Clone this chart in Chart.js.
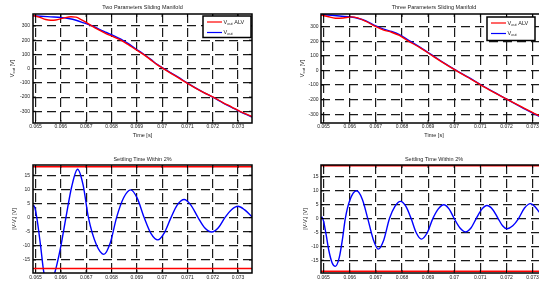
<!DOCTYPE html>
<html>
<head>
<meta charset="utf-8">
<script src="https://cdn.jsdelivr.net/npm/chart.js@4.4.0/dist/chart.umd.min.js"></script>
<style>
  html, body { margin: 0; padding: 0; background: #fff; overflow: hidden; width: 539px; height: 282px; }
  canvas { position: absolute; }
</style>
</head>
<body>
<canvas id="chartOne" width="270" height="141" style="left:0;top:0"></canvas>
<canvas id="chartTwo" width="290" height="141" style="left:270px;top:0"></canvas>
<canvas id="chartThree" width="270" height="150" style="left:0;top:141px"></canvas>
<canvas id="chartFour" width="290" height="150" style="left:270px;top:141px"></canvas>
<script>
"use strict";

let tSpan = [0.0649, 0.07355];
let xTickLabels = ["0.065", "0.066", "0.067", "0.068", "0.069", "0.07", "0.071", "0.072", "0.073"];
let vTickLabels = ["-300", "-200", "-100", "0", "100", "200", "300"];
let eTickLabels = ["-15", "-10", "-5", "0", "5", "10", "15"];

// Two Parameters Sliding Manifold
let tTwoAlv = [0.06490, 0.06500, 0.06520, 0.06540, 0.06560, 0.06580, 0.06610, 0.06640, 0.06660, 0.06680, 0.06700, 0.06722, 0.06750, 0.06780, 0.06810, 0.06837, 0.06865, 0.06895, 0.06926, 0.06955, 0.06980, 0.07005, 0.07035, 0.07065, 0.07097, 0.07130, 0.07165, 0.07202, 0.07240, 0.07275, 0.07307, 0.07330, 0.07355];
let vTwoAlv = [372, 370, 358, 345, 340, 342, 355, 365, 362, 345, 325, 300, 272, 245, 222, 200, 170, 135, 100, 62, 28, 0, -33, -65, -100, -135, -168, -200, -238, -270, -300, -318, -337];
let tTwoOut = [0.06490, 0.06520, 0.06560, 0.06600, 0.06630, 0.06660, 0.06690, 0.06722, 0.06750, 0.06780, 0.06810, 0.06837, 0.06865, 0.06895, 0.06926, 0.06955, 0.06980, 0.07005, 0.07035, 0.07065, 0.07097, 0.07130, 0.07165, 0.07202, 0.07240, 0.07275, 0.07307, 0.07330, 0.07355];
let vTwoOut = [372, 368, 364, 360, 352, 340, 322, 302, 278, 254, 230, 207, 177, 140, 103, 65, 30, 2, -30, -62, -98, -133, -168, -202, -240, -272, -302, -320, -340];

// Three Parameters Sliding Manifold
let tThreeAlv = [0.06490, 0.06515, 0.06545, 0.06575, 0.06605, 0.06630, 0.06660, 0.06700, 0.06730, 0.06760, 0.06790, 0.06821, 0.06870, 0.06917, 0.06960, 0.07006, 0.07055, 0.07102, 0.07150, 0.07204, 0.07260, 0.07312, 0.07355];
let vThreeAlv = [380, 370, 358, 360, 367, 360, 338, 300, 277, 262, 240, 205, 155, 100, 50, 0, -50, -100, -148, -200, -252, -300, -335];
let tThreeOut = [0.06490, 0.06530, 0.06570, 0.06605, 0.06630, 0.06660, 0.06700, 0.06730, 0.06760, 0.06790, 0.06821, 0.06870, 0.06917, 0.06960, 0.07006, 0.07055, 0.07102, 0.07150, 0.07204, 0.07260, 0.07312, 0.07355];
let vThreeOut = [383, 378, 372, 366, 358, 342, 305, 283, 267, 246, 212, 158, 103, 52, 2, -48, -98, -147, -200, -254, -303, -340];

// Settling time within 2%
let tErrTwo = [0.06490, 0.06495, 0.06505, 0.06520, 0.06533, 0.06555, 0.06576, 0.06598, 0.06620, 0.06643, 0.06666, 0.06688, 0.06709, 0.06740, 0.06770, 0.06795, 0.06820, 0.06848, 0.06876, 0.06902, 0.06929, 0.06955, 0.06983, 0.07008, 0.07035, 0.07060, 0.07087, 0.07113, 0.07142, 0.07168, 0.07196, 0.07222, 0.07248, 0.07274, 0.07300, 0.07325, 0.07355];
let eErrTwo = [4.2, 4.0, 0, -10, -19.5, -24, -19.5, -11, 0, 11, 17.1, 11.5, 0, -9.5, -13, -9, 0, 7, 9.8, 6.8, 0, -5.5, -7.9, -5.5, 0, 4.5, 6.4, 4.5, 0, -3.6, -5.1, -3.6, 0, 2.8, 4.0, 2.8, 0.3];
let bandTwo = [18, -18];

let tErrThree = [0.06490, 0.06494, 0.06500, 0.06510, 0.06520, 0.06532, 0.06545, 0.06560, 0.06572, 0.06583, 0.06600, 0.06626, 0.06648, 0.06669, 0.06690, 0.06709, 0.06730, 0.06752, 0.06773, 0.06794, 0.06815, 0.06835, 0.06855, 0.06874, 0.06896, 0.06918, 0.06939, 0.06960, 0.06980, 0.07000, 0.07022, 0.07043, 0.07064, 0.07084, 0.07105, 0.07125, 0.07147, 0.07168, 0.07185, 0.07201, 0.07224, 0.07246, 0.07269, 0.07292, 0.07310, 0.07324, 0.07340, 0.07355];
let eErrThree = [0.2, 0.5, -1, -6, -11.5, -15.8, -17.2, -14, -7.5, 0, 6.5, 10, 7, 0, -7.5, -11, -7.8, 0, 4.4, 6.2, 4.4, 0, -5.2, -7.4, -5.2, 0, 3.5, 5, 3.5, 0, -3.4, -4.8, -3.4, 0, 3.3, 4.7, 3.3, 0, -2.6, -3.7, -2.6, 0, 3.8, 5.4, 4.2, 2.5, 0.5, -1.5];
let bandThree = [19, -19];

let FONT = "'Liberation Sans', Arial, sans-serif";
let TEXT = "#222";

function pts(t, v) {
  return t.map((x, i) => ({ x: x, y: v[i] }));
}

function curve(t, v, color) {
  return {
    data: pts(t, v),
    borderColor: color,
    borderWidth: 1.4,
    pointRadius: 0,
    fill: false,
    cubicInterpolationMode: "monotone",
  };
}

function limit(level) {
  return {
    data: pts(tSpan, [level, level]),
    borderColor: "#ff0000",
    borderWidth: 1.5,
    pointRadius: 0,
    fill: false,
  };
}

// text pieces: [string, isSubscript]
function richText(ctx, parts, x, y) {
  let main = "5.5px " + FONT;
  let small = "4px " + FONT;
  let w = 0;
  parts.forEach((p) => {
    ctx.font = p[1] ? small : main;
    w += ctx.measureText(p[0]).width;
  });
  let cx = x - w / 2;
  ctx.textAlign = "left";
  ctx.textBaseline = "middle";
  parts.forEach((p) => {
    ctx.font = p[1] ? small : main;
    ctx.fillText(p[0], cx, p[1] ? y + 1.5 : y);
    cx += ctx.measureText(p[0]).width;
  });
}

function leftText(ctx, parts, x, y) {
  let main = "5.5px " + FONT;
  let small = "4px " + FONT;
  ctx.textAlign = "left";
  ctx.textBaseline = "middle";
  parts.forEach((p) => {
    ctx.font = p[1] ? small : main;
    ctx.fillText(p[0], x, p[1] ? y + 1.5 : y);
    x += ctx.measureText(p[0]).width;
  });
}

function matlabLook(cfg) {
  return {
    id: "matlabLook",
    afterDraw(chart) {
      let ctx = chart.ctx;
      let a = chart.chartArea;
      let xs = chart.scales.x;
      let ys = chart.scales.y;
      ctx.save();

      // inward tick marks on all four sides
      ctx.strokeStyle = "#000";
      ctx.lineWidth = 1;
      ctx.beginPath();
      xs.ticks.forEach((t) => {
        let p = xs.getPixelForValue(t.value);
        ctx.moveTo(p, a.top);
        ctx.lineTo(p, a.top + 3);
        ctx.moveTo(p, a.bottom);
        ctx.lineTo(p, a.bottom - 3);
      });
      ys.ticks.forEach((t) => {
        let p = ys.getPixelForValue(t.value);
        ctx.moveTo(a.left, p);
        ctx.lineTo(a.left + 3, p);
        ctx.moveTo(a.right, p);
        ctx.lineTo(a.right - 3, p);
      });
      ctx.stroke();

      // box
      ctx.lineWidth = 1.5;
      ctx.strokeRect(a.left, a.top, a.right - a.left, a.bottom - a.top);

      let mid = (a.left + a.right) / 2;
      ctx.fillStyle = TEXT;
      ctx.font = "5.5px " + FONT;
      ctx.textAlign = "center";
      ctx.textBaseline = "middle";
      ctx.fillText(cfg.title, mid, cfg.titleY);
      if (cfg.xLabelY) {
        ctx.fillText("Time [s]", mid, cfg.xLabelY);
      }

      ctx.save();
      ctx.translate(cfg.yLabelX, (a.top + a.bottom) / 2);
      ctx.rotate(-Math.PI / 2);
      richText(ctx, cfg.yLabel, 0, 0);
      ctx.restore();

      if (cfg.legend) {
        let L = cfg.legend;
        ctx.fillStyle = "#fff";
        ctx.fillRect(L.x, L.y, L.w, L.h);
        ctx.strokeStyle = "#000";
        ctx.lineWidth = 1.5;
        ctx.strokeRect(L.x, L.y, L.w, L.h);
        L.items.forEach((it, i) => {
          let y = L.y + 6 + i * 10.5;
          ctx.strokeStyle = it.color;
          ctx.lineWidth = 1.2;
          ctx.beginPath();
          ctx.moveTo(L.x + 4, y);
          ctx.lineTo(L.x + 19, y);
          ctx.stroke();
          ctx.fillStyle = TEXT;
          leftText(ctx, it.text, L.x + 20.5, y);
        });
      }
      ctx.restore();
    },
  };
}

function makeChart(id, cfg) {
  let ctx = document.getElementById(id).getContext("2d");
  let xTicks = xTickLabels.map(Number);
  let yTicks = cfg.yTickLabels.map(Number);
  return new Chart(ctx, {
    type: "line",
    data: { datasets: cfg.datasets },
    options: {
      responsive: false,
      animation: false,
      events: [],
      layout: { padding: { left: 0, right: cfg.padRight, top: cfg.padTop, bottom: 0 } },
      plugins: {
        legend: { display: false },
        tooltip: { enabled: false },
        title: { display: false },
      },
      scales: {
        x: {
          type: "linear",
          min: tSpan[0],
          max: tSpan[1],
          afterBuildTicks: (s) => { s.ticks = xTicks.map((v) => ({ value: v })); },
          afterFit: (s) => { s.height = cfg.xHeight; },
          ticks: {
            autoSkip: false,
            maxRotation: 0,
            padding: cfg.xTickPad,
            color: TEXT,
            font: { family: FONT, size: 5 },
            callback: (v) => xTickLabels[xTicks.indexOf(v)],
          },
          grid: { color: "#1a1a1a", lineWidth: 1.2, drawTicks: false },
          border: { display: false, dash: [9, 5] },
        },
        y: {
          min: cfg.yMin,
          max: cfg.yMax,
          afterBuildTicks: (s) => { s.ticks = yTicks.map((v) => ({ value: v })); },
          afterFit: (s) => { s.width = cfg.yWidth; },
          ticks: {
            autoSkip: false,
            padding: cfg.yTickPad,
            color: TEXT,
            font: { family: FONT, size: 5 },
            callback: (v) => cfg.yTickLabels[yTicks.indexOf(v)],
          },
          grid: { color: "#1a1a1a", lineWidth: 1.2, drawTicks: false },
          border: { display: false, dash: [9, 5] },
        },
      },
    },
    plugins: [matlabLook(cfg)],
  });
}

let vOutLabel = [["V", false], ["out", true], [" [V]", false]];
let errLabel = [["|V-V", false], ["r", true], ["| [V]", false]];
let legendItems = [
  { color: "#ff0000", text: [["V", false], ["out", true], [" ALV", false]] },
  { color: "#0000ff", text: [["V", false], ["out", true]] },
];

let chartOne = makeChart("chartOne", {
  datasets: [curve(tTwoAlv, vTwoAlv, "#ff0000"), curve(tTwoOut, vTwoOut, "#0000ff")],
  yMin: -382, yMax: 384, yTickLabels: vTickLabels,
  padTop: 14, padRight: 18, yWidth: 33, xHeight: 18, xTickPad: 1, yTickPad: 3,
  title: "Two Parameters Sliding Manifold", titleY: 7.5, xLabelY: 135, yLabelX: 12,
  yLabel: vOutLabel,
  legend: { x: 203, y: 16, w: 48, h: 21.5, items: legendItems },
});

let chartTwo = makeChart("chartTwo", {
  datasets: [curve(tThreeAlv, vThreeAlv, "#ff0000"), curve(tThreeOut, vThreeOut, "#0000ff")],
  yMin: -360, yMax: 387, yTickLabels: vTickLabels,
  padTop: 14, padRight: 13, yWidth: 51, xHeight: 18, xTickPad: 1, yTickPad: 2.5,
  title: "Three Parameters Sliding Manifold", titleY: 7.5, xLabelY: 135, yLabelX: 32,
  yLabel: vOutLabel,
  legend: { x: 217, y: 17, w: 48, h: 23.5, items: legendItems },
});

let chartThree = makeChart("chartThree", {
  datasets: [limit(bandTwo[0]), limit(bandTwo[1]), curve(tErrTwo, eErrTwo, "#0000ff")],
  yMin: -19.6, yMax: 18.6, yTickLabels: eTickLabels,
  padTop: 24, padRight: 18, yWidth: 33, xHeight: 18, xTickPad: 2, yTickPad: 3,
  title: "Settling Time Within 2%", titleY: 18.5, xLabelY: 145, yLabelX: 14,
  yLabel: errLabel,
});

let chartFour = makeChart("chartFour", {
  datasets: [limit(bandThree[0]), limit(bandThree[1]), curve(tErrThree, eErrThree, "#0000ff")],
  yMin: -19.6, yMax: 19.3, yTickLabels: eTickLabels,
  padTop: 24, padRight: 13, yWidth: 51, xHeight: 18, xTickPad: 2, yTickPad: 2.5,
  title: "Settling Time Within 2%", titleY: 18.5, xLabelY: 145, yLabelX: 35,
  yLabel: errLabel,
});
</script>
</body>
</html>
